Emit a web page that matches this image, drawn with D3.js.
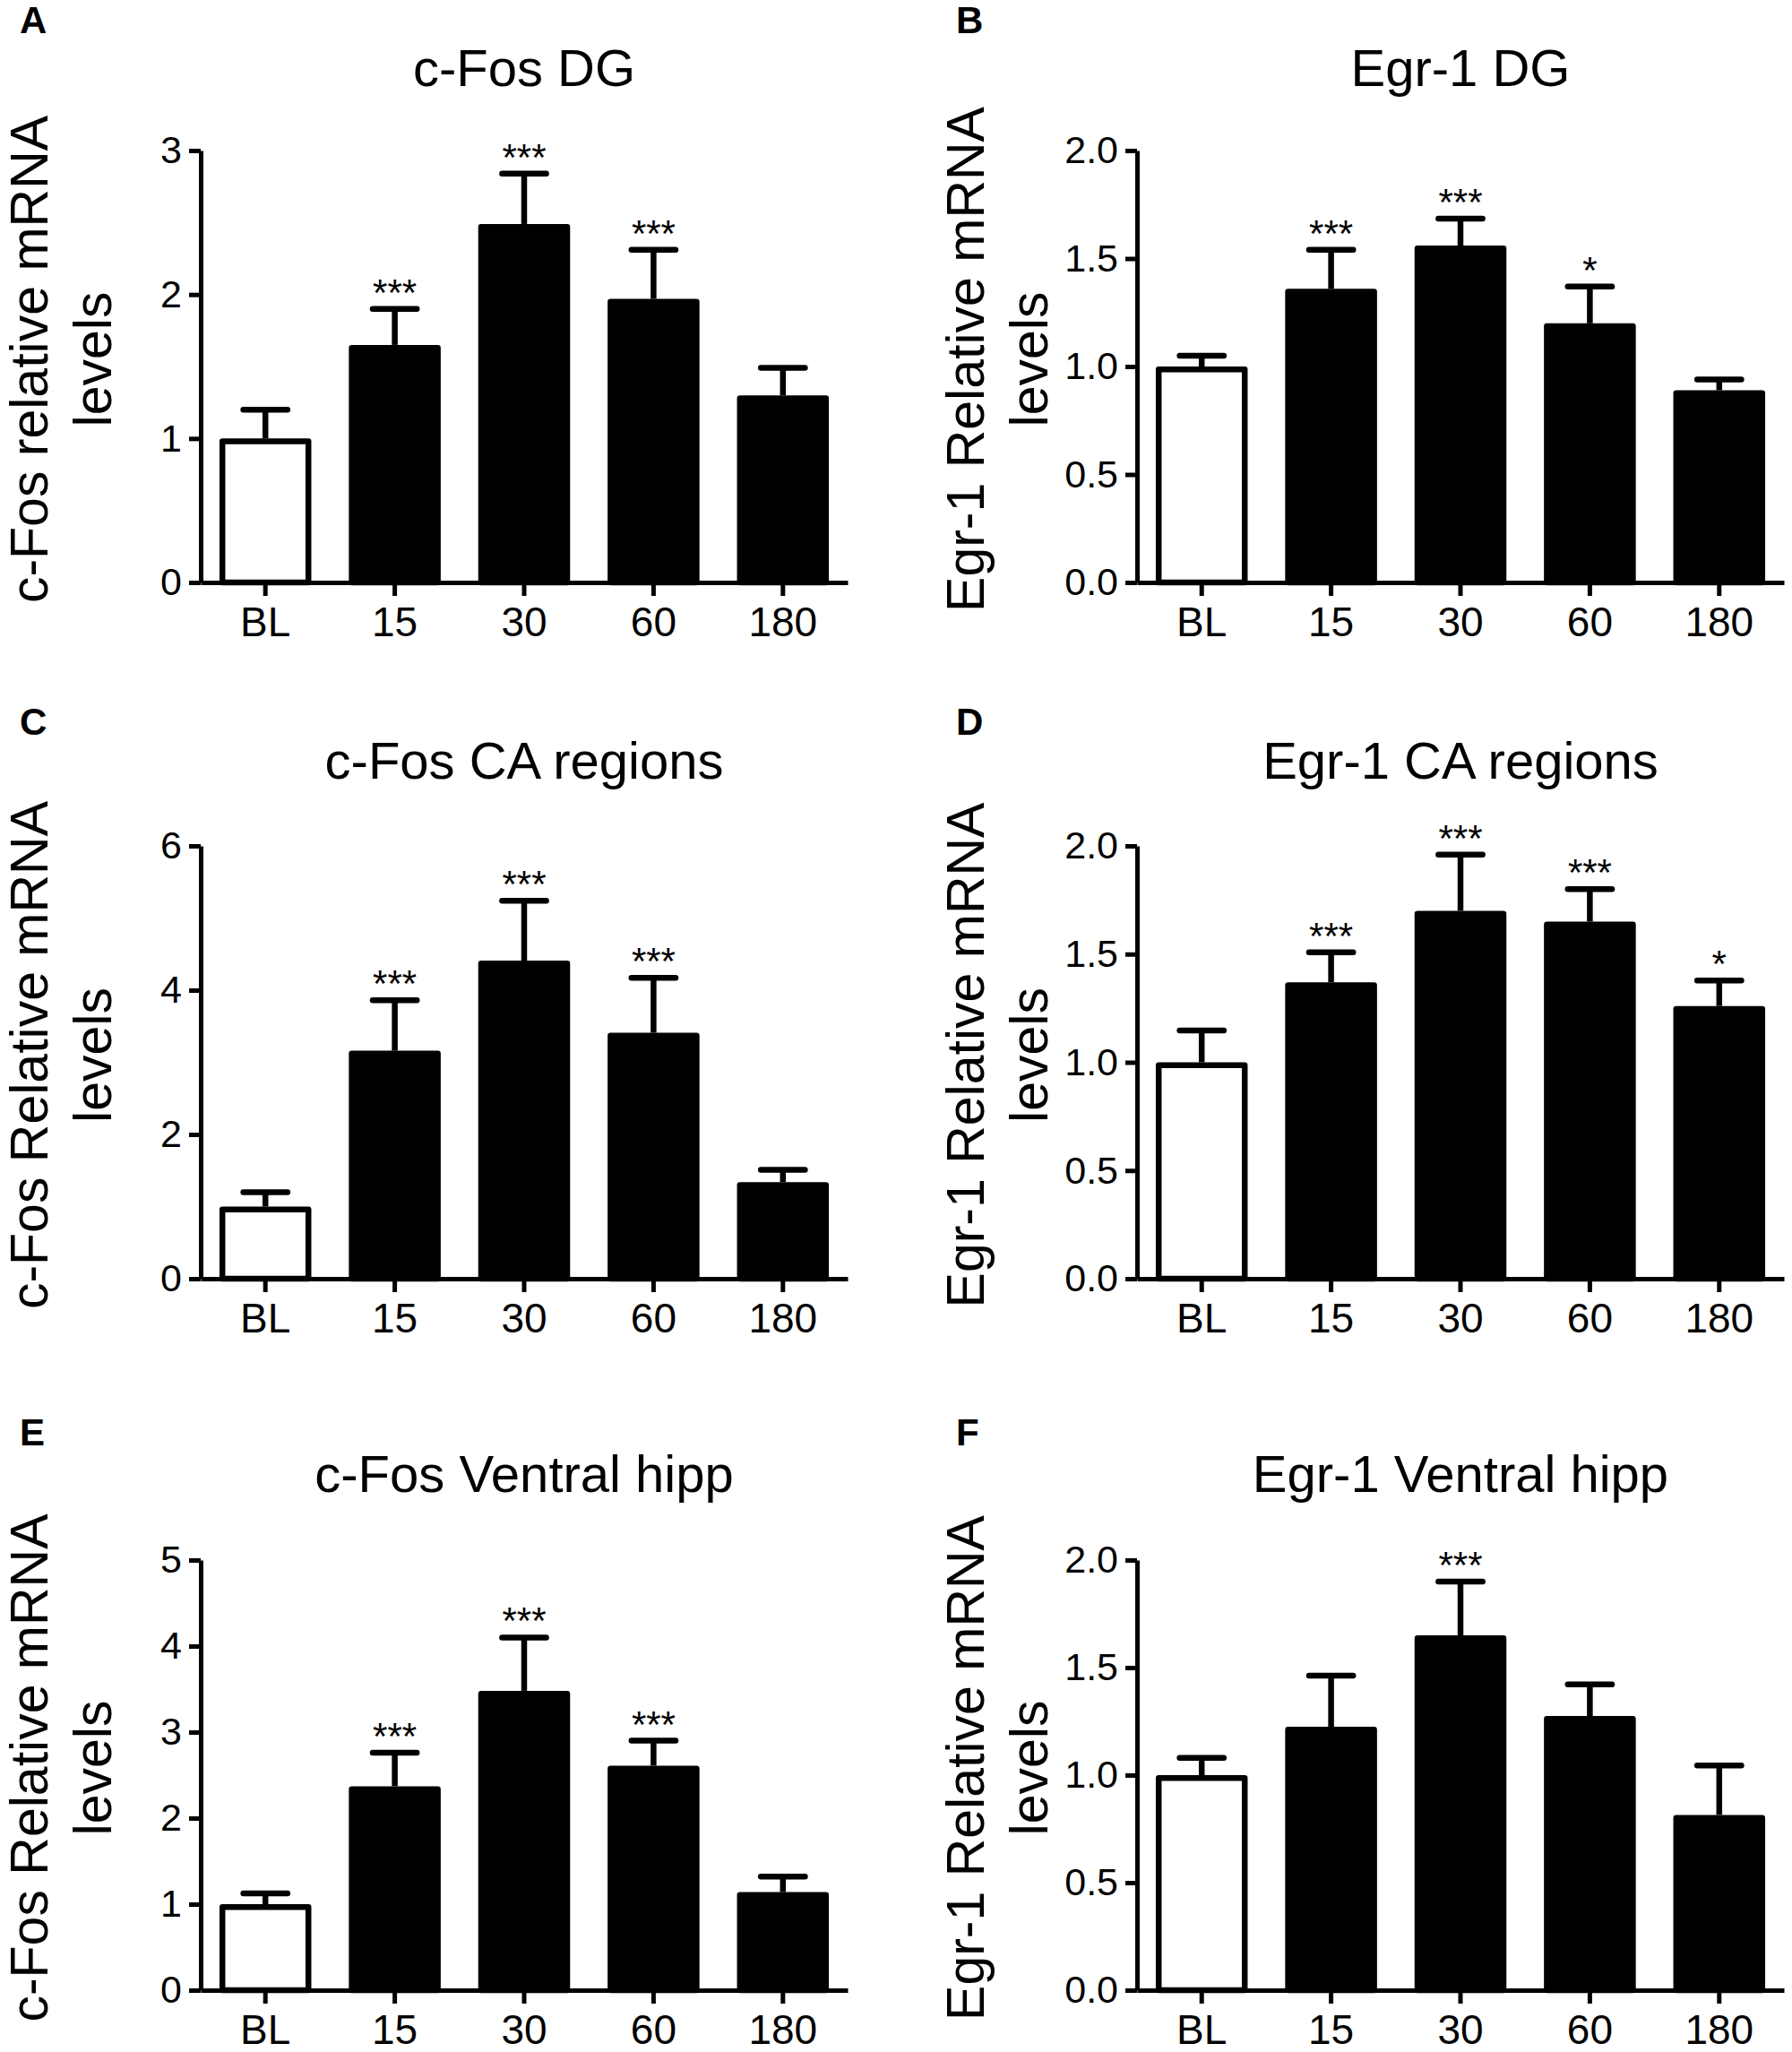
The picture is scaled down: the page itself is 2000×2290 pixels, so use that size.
<!DOCTYPE html>
<html>
<head>
<meta charset="utf-8">
<script src="https://cdn.jsdelivr.net/npm/d3@7/dist/d3.min.js"></script>
<style>
  html, body { margin: 0; padding: 0; background: #fff; }
  svg { display: block; }
  text { font-family: "Liberation Sans", Arial, Helvetica, sans-serif; fill: #000; }
</style>
</head>
<body>
<svg id="chart" width="2000" height="2290"></svg>
<script>
// ---------------- DATA ----------------
const categories = ["BL", "15", "30", "60", "180"];

const panelLetters = ["A", "B", "C", "D", "E", "F"];
const panelTitles = ["c-Fos DG", "Egr-1 DG", "c-Fos CA regions", "Egr-1 CA regions", "c-Fos Ventral hipp", "Egr-1 Ventral hipp"];
const yLabelLine1 = ["c-Fos relative mRNA", "Egr-1 Relative mRNA", "c-Fos Relative mRNA", "Egr-1 Relative mRNA", "c-Fos Relative mRNA", "Egr-1 Relative mRNA"];
const yLabelLine2 = ["levels", "levels", "levels", "levels", "levels", "levels"];

// bar means
const meansA = [1.00, 1.65, 2.49, 1.97, 1.30];
const meansB = [1.00, 1.36, 1.56, 1.20, 0.89];
const meansC = [1.00, 3.16, 4.41, 3.41, 1.34];
const meansD = [1.00, 1.37, 1.70, 1.65, 1.26];
const meansE = [1.00, 2.37, 3.48, 2.61, 1.14];
const meansF = [1.00, 1.225, 1.65, 1.275, 0.815];

// upper error (SEM)
const errA = [0.20, 0.25, 0.35, 0.34, 0.19];
const errB = [0.05, 0.18, 0.125, 0.17, 0.05];
const errC = [0.20, 0.70, 0.83, 0.76, 0.17];
const errD = [0.147, 0.138, 0.26, 0.15, 0.118];
const errE = [0.125, 0.39, 0.62, 0.29, 0.18];
const errF = [0.08, 0.238, 0.25, 0.147, 0.23];

// significance marks
const starsA = ["", "***", "***", "***", ""];
const starsB = ["", "***", "***", "*", ""];
const starsC = ["", "***", "***", "***", ""];
const starsD = ["", "***", "***", "***", "*"];
const starsE = ["", "***", "***", "***", ""];
const starsF = ["", "", "***", "", ""];

// y axes
const yMaxes = [3, 2, 6, 2, 5, 2];
const yTicksA = [0, 1, 2, 3];
const yTicksB = [0, 0.5, 1.0, 1.5, 2.0];
const yTicksC = [0, 2, 4, 6];
const yTicksD = [0, 0.5, 1.0, 1.5, 2.0];
const yTicksE = [0, 1, 2, 3, 4, 5];
const yTicksF = [0, 0.5, 1.0, 1.5, 2.0];
const yTickFormats = ["d", ".1f", "d", ".1f", "d", ".1f"];

const allMeans = [meansA, meansB, meansC, meansD, meansE, meansF];
const allErr = [errA, errB, errC, errD, errE, errF];
const allStars = [starsA, starsB, starsC, starsD, starsE, starsF];
const allTicks = [yTicksA, yTicksB, yTicksC, yTicksD, yTicksE, yTicksF];

// ---------------- LAYOUT ----------------
const colOffsets = [0, 1045];
const rowZeroY = [650, 1427, 2221];
const rowTopY = [168, 944, 1741];
const rowTitleY = [96, 869, 1665];
const rowLetterY = [37, 820, 1613];
const axisLeftX = 224, axisRightX = 946;

const svg = d3.select("#chart");
svg.append("rect").attr("width", 2000).attr("height", 2290).attr("fill", "#fff");

for (let p = 0; p < 6; p++) {
  const col = p % 2, row = Math.floor(p / 2);
  const off = colOffsets[col];
  const g = svg.append("g");

  const x = d3.scaleBand()
    .domain(categories)
    .range([axisLeftX + off, axisRightX + off])
    .paddingInner(0.29)
    .paddingOuter(0.145);

  const y = d3.scaleLinear()
    .domain([0, yMaxes[p]])
    .range([rowZeroY[row], rowTopY[row]]);

  const data = categories.map((c, i) => ({
    cat: c, mean: allMeans[p][i], err: allErr[p][i], star: allStars[p][i], idx: i
  }));

  // error bars (upper only)
  const capHalf = x.bandwidth() * 0.24;
  data.forEach(d => {
    const cx = x(d.cat) + x.bandwidth() / 2;
    g.append("line")
      .attr("x1", cx).attr("x2", cx)
      .attr("y1", y(d.mean)).attr("y2", y(d.mean + d.err))
      .attr("stroke", "#000").attr("stroke-width", 6.5);
    g.append("line")
      .attr("x1", cx - capHalf).attr("x2", cx + capHalf)
      .attr("y1", y(d.mean + d.err)).attr("y2", y(d.mean + d.err))
      .attr("stroke", "#000").attr("stroke-width", 6.5)
      .attr("stroke-linecap", "round");
  });

  // bars
  const sw = 6.5;
  g.selectAll("rect.bar").data(data).enter().append("rect")
    .attr("class", "bar")
    .attr("x", d => x(d.cat) + sw / 2)
    .attr("width", x.bandwidth() - sw)
    .attr("y", d => y(d.mean) + sw / 2)
    .attr("height", d => y(0) - y(d.mean) - sw / 2)
    .attr("fill", d => d.idx === 0 ? "#fff" : "#000")
    .attr("stroke", "#000")
    .attr("stroke-width", sw)
    .attr("stroke-linejoin", "round");

  // significance stars
  g.selectAll("text.star").data(data.filter(d => d.star)).enter().append("text")
    .attr("class", "star")
    .attr("x", d => x(d.cat) + x.bandwidth() / 2)
    .attr("y", d => y(d.mean + d.err) - 4)
    .attr("text-anchor", "middle")
    .attr("font-size", 42)
    .text(d => d.star);

  // axes
  const yAxis = d3.axisLeft(y)
    .tickValues(allTicks[p])
    .tickFormat(d3.format(yTickFormats[p]))
    .tickSize(13).tickSizeOuter(0).tickPadding(8);
  const ya = g.append("g").attr("transform", `translate(${axisLeftX + off},0)`).call(yAxis);

  const xAxis = d3.axisBottom(x).tickSize(15).tickSizeOuter(0).tickPadding(12);
  const xa = g.append("g").attr("transform", `translate(0,${rowZeroY[row]})`).call(xAxis);

  [ya, xa].forEach(a => {
    a.selectAll("path.domain").attr("stroke", "#000").attr("stroke-width", 5);
    a.selectAll(".tick line").attr("stroke", "#000").attr("stroke-width", 5);
    a.selectAll("text").attr("fill", "#000")
      .style("font-family", '"Liberation Sans", Arial, sans-serif');
  });
  ya.selectAll("text").attr("font-size", 43);
  xa.selectAll("text").attr("font-size", 46);

  // title
  g.append("text")
    .attr("x", (axisLeftX + axisRightX) / 2 + off)
    .attr("y", rowTitleY[row])
    .attr("text-anchor", "middle")
    .attr("font-size", 58)
    .text(panelTitles[p]);

  // panel letter
  g.append("text")
    .attr("x", 22 + off)
    .attr("y", rowLetterY[row])
    .attr("font-size", 42)
    .attr("font-weight", "bold")
    .text(panelLetters[p]);

  // y label (two lines)
  const cy = (rowZeroY[row] + rowTopY[row]) / 2 - 8;
  g.append("text")
    .attr("transform", `translate(${53 + off},${cy}) rotate(-90)`)
    .attr("text-anchor", "middle")
    .attr("font-size", 59)
    .text(yLabelLine1[p]);
  g.append("text")
    .attr("transform", `translate(${124 + off},${cy}) rotate(-90)`)
    .attr("text-anchor", "middle")
    .attr("font-size", 59)
    .text(yLabelLine2[p]);
}
</script>
</body>
</html>
